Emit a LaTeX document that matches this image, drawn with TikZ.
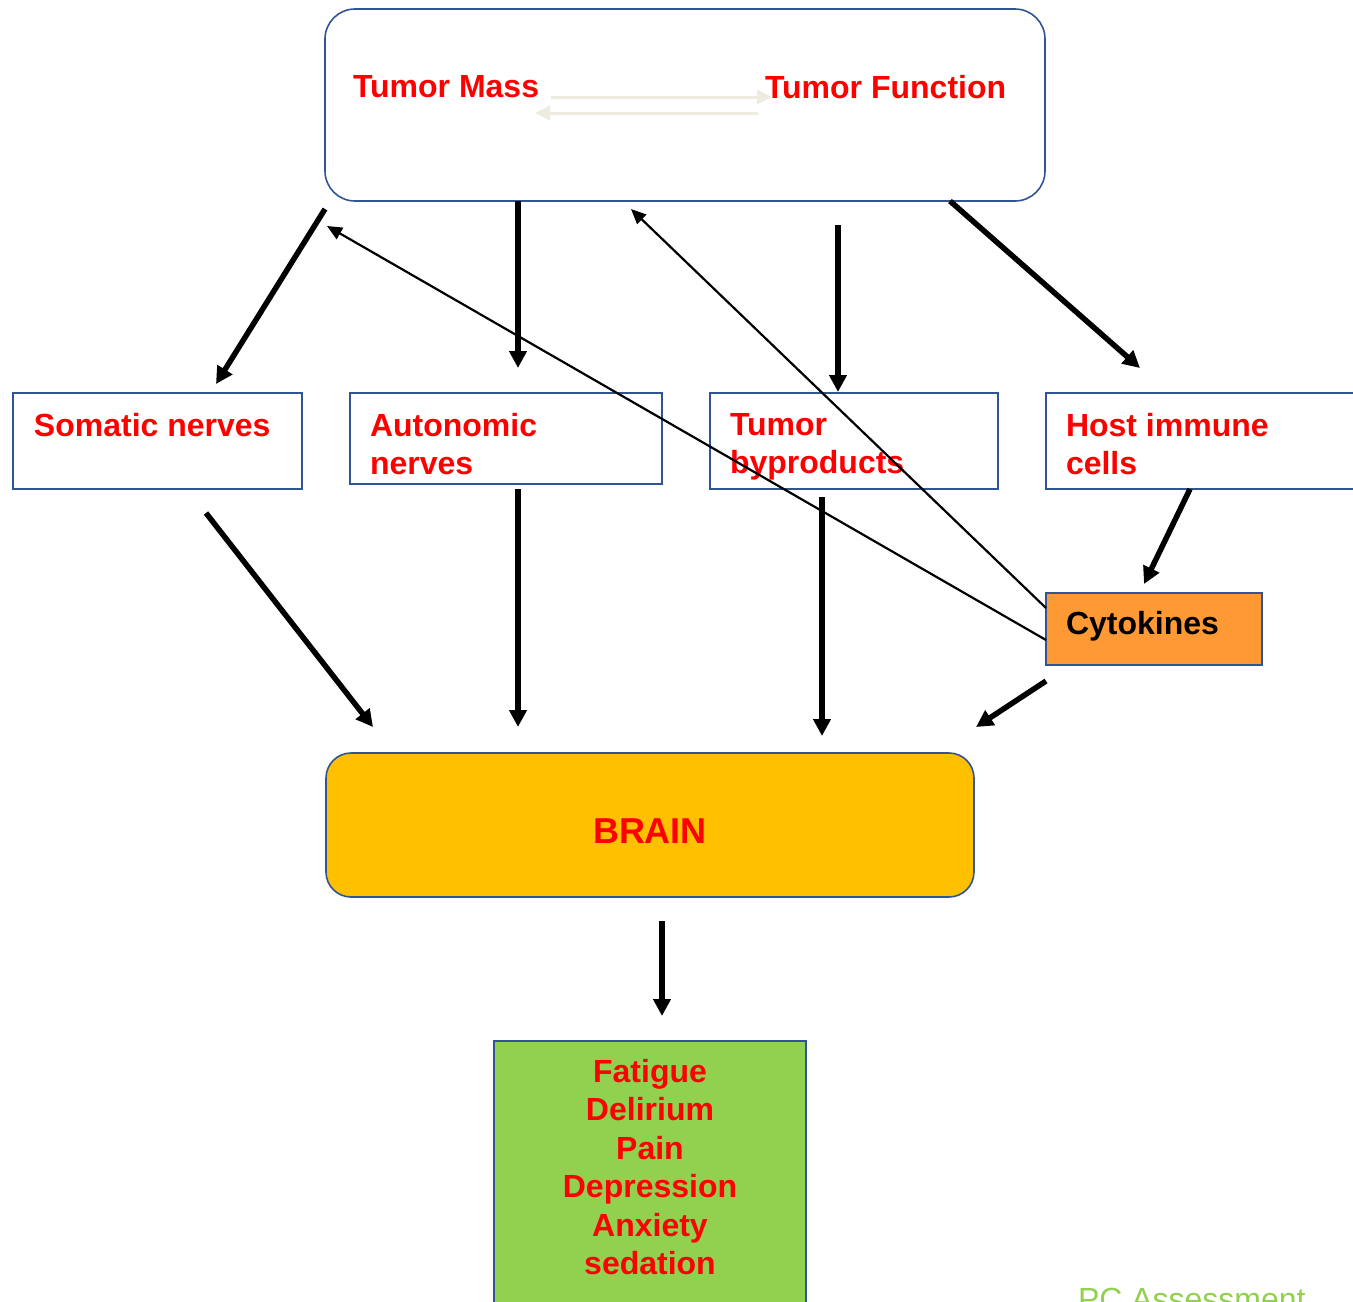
\documentclass[tikz,border=0pt]{standalone}
\usepackage{fontspec}
\setmainfont{Liberation Sans}
\usetikzlibrary{arrows.meta}
\definecolor{boxblue}{HTML}{2F5597}
\definecolor{brainyellow}{HTML}{FFC000}
\definecolor{cytoorange}{HTML}{FF9933}
\definecolor{symgreen}{HTML}{92D050}
\definecolor{paleline}{HTML}{EEECE1}
\tikzset{%
  >={Triangle[length=17pt,width=17pt]}, % heavy arrow heads
  inner sep=0pt,%
  outer sep=0pt,%
  box/.style={draw=boxblue,line width=1.6pt,anchor=north west},%
  red text/.style={text=red,font=\fontsize{32}{38.5}\selectfont\bfseries,
    align=left,anchor=north west},%
  heavy arrow/.style={->,line width=5.5pt},%
  light arrow/.style={-{Triangle[length=15pt,width=13pt]},line width=2.2pt},%
  pale arrow/.style={-{Triangle[length=15pt,width=14pt]},line width=3pt,
    draw=paleline}%
}

\begin{document}
\begin{tikzpicture}[x=1pt,y=-1pt] % pixel grid, y down

\clip (0,0) rectangle (1353,1302);

\node[box,rounded corners=30pt,minimum width=720pt,minimum height=192pt] (T) at (325,9) {};
\node[box,minimum width=289pt,minimum height=96pt] (SN) at (13,393) {};
\node[box,minimum width=312pt,minimum height=91pt] (AN) at (350,393) {};
\node[box,minimum width=288pt,minimum height=96pt] (TB) at (710,393) {};
\node[box,minimum width=340pt,minimum height=96pt] (HI) at (1046,393) {};
\node[box,fill=cytoorange,minimum width=216pt,minimum height=72pt] (CY) at (1046,593) {};
\node[box,fill=brainyellow,rounded corners=25pt,minimum width=648pt,minimum height=144pt] (B) at (326,753) {};
\node[box,fill=symgreen,minimum width=312pt,minimum height=300pt] (S) at (494,1041) {};

\node[red text] (Tmass) at (353,75) {Tumor Mass};
\node[red text] (Tfunc) at (765,75) {Tumor Function};
\node[red text] (SNt) at ([shift={(21,20)}]SN.north west) {Somatic nerves};
\node[red text] (ANt) at ([shift={(20,20)}]AN.north west) {Autonomic\\nerves};
\node[red text] (TBt) at ([shift={(20,20)}]TB.north west) {Tumor\\byproducts};
\node[red text] (HIt) at ([shift={(20,20)}]HI.north west) {Host immune\\cells};
\node[red text,text=black] (CYt) at ([shift={(20,18)}]CY.north west) {Cytokines};
\node[text=red,font=\fontsize{36}{43}\selectfont\bfseries] (Bt) at ([yshift=-6pt]B.center) {BRAIN};
\node[red text,align=center,anchor=north] (St) at ([yshift=-18pt]S.north) {Fatigue\\Delirium\\Pain\\Depression\\Anxiety\\sedation};
\node[anchor=north west,text=symgreen,font=\fontsize{32}{38}\selectfont] (PC) at (1078,1288) {PC Assessment};

% mass <-> function
\coordinate (M1) at (551,97);  \coordinate (F1) at (772,97);
\coordinate (F2) at (758,113); \coordinate (M2) at (535,113);
\draw[pale arrow] (M1) -- (F1);
\draw[pale arrow] (F2) -- (M2);

\coordinate (T1) at (325,209);  \coordinate (SN1) at (216,384);
\coordinate (T2) at (518,201);  \coordinate (AN1) at (518,368);
\coordinate (T3) at (838,225);  \coordinate (TB1) at (838,392);
\coordinate (T4) at (950,201);  \coordinate (HI1) at (1140,368);
\coordinate (HI2) at (1190,489); \coordinate (CY1) at (1144,584);
\coordinate (SN2) at (206,513); \coordinate (B1) at (373,727);
\coordinate (AN2) at (518,489); \coordinate (B2) at (518,727);
\coordinate (TB2) at (822,497); \coordinate (B3) at (822,736);
\coordinate (CY2) at (1046,681); \coordinate (B4) at (976,727);
\coordinate (B5) at (662,921);  \coordinate (S1) at (662,1016);
\coordinate (CY3) at (1046,640); \coordinate (T5) at (327,226);
\coordinate (CY4) at (1046,608); \coordinate (T6) at (631,209);

\draw[heavy arrow] (T1) -- (SN1);
\draw[heavy arrow] (T2) -- (AN1);
\draw[heavy arrow] (T3) -- (TB1);
\draw[heavy arrow] (T4) -- (HI1);
\draw[heavy arrow] (HI2) -- (CY1);
\draw[heavy arrow] (SN2) -- (B1);
\draw[heavy arrow] (AN2) -- (B2);
\draw[heavy arrow] (TB2) -- (B3);
\draw[heavy arrow] (CY2) -- (B4);
\draw[heavy arrow] (B5) -- (S1);
\draw[light arrow] (CY3) -- (T5);
\draw[light arrow] (CY4) -- (T6);

\end{tikzpicture}
\end{document}
